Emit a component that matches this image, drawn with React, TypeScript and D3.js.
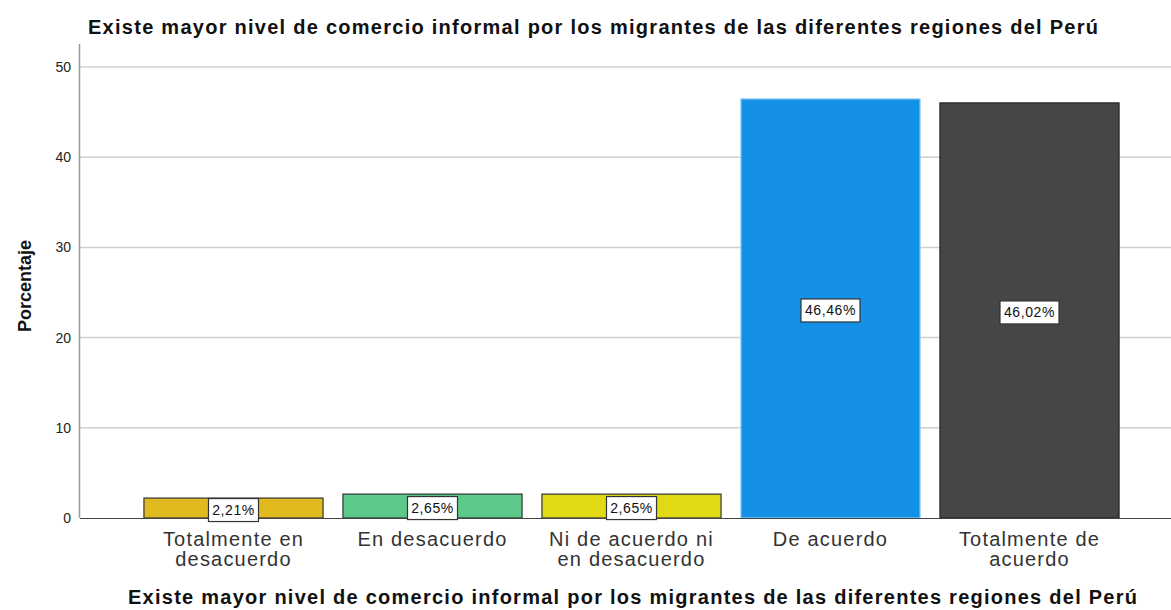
import * as d3 from 'd3';
import { useEffect, useRef } from 'react';

const categories = [
  ['Totalmente en', 'desacuerdo'],
  ['En desacuerdo'],
  ['Ni de acuerdo ni', 'en desacuerdo'],
  ['De acuerdo'],
  ['Totalmente de', 'acuerdo'],
];
const percentages = [2.21, 2.65, 2.65, 46.46, 46.02];
const percentLabels = ['2,21%', '2,65%', '2,65%', '46,46%', '46,02%'];
const barColors = ['#E0BA1E', '#5CC98A', '#E2D915', '#1491E6', '#464648'];
const barStrokes = ['#333333', '#333333', '#333333', '#8DC8F0', '#222222'];
const yTicks = [0, 10, 20, 30, 40, 50];

const title = 'Existe mayor nivel de comercio informal por los migrantes de las diferentes regiones del Perú';

const App = () => {
  const svgRef = useRef(null);

  useEffect(() => {
    const svg = d3.select(svgRef.current);
    svg.selectAll('*').remove();
    const font = '"Liberation Sans", Arial, sans-serif';

    const y = d3.scaleLinear().domain([0, 50]).range([518, 67]);
    const x = d3.scaleBand()
      .domain(percentages.map((_, i) => String(i)))
      .range([134, 1129])
      .paddingInner(0.1)
      .paddingOuter(0.05);

    // gridlines
    svg.append('g')
      .selectAll('line')
      .data(yTicks.filter(t => t > 0))
      .enter()
      .append('line')
      .attr('x1', 80)
      .attr('x2', 1171)
      .attr('y1', d => y(d))
      .attr('y2', d => y(d))
      .style('stroke', '#D0D0D0')
      .style('stroke-width', 1.5);

    // y axis labels
    svg.append('g')
      .selectAll('text')
      .data(yTicks)
      .enter()
      .append('text')
      .attr('x', 71)
      .attr('y', d => y(d) + 5)
      .attr('text-anchor', 'end')
      .style('font-family', font)
      .style('font-size', '14px')
      .style('fill', '#222')
      .text(d => d);

    // y axis line
    svg.append('line')
      .attr('x1', 79.5).attr('x2', 79.5)
      .attr('y1', 44).attr('y2', 518)
      .style('stroke', '#999')
      .style('stroke-width', 1.5);

    // bars
    svg.selectAll('.bar')
      .data(percentages)
      .enter()
      .append('rect')
      .attr('class', 'bar')
      .attr('x', (_, i) => x(String(i)))
      .attr('y', d => y(d))
      .attr('width', x.bandwidth())
      .attr('height', d => y(0) - y(d))
      .style('fill', (_, i) => barColors[i])
      .style('stroke', (_, i) => barStrokes[i])
      .style('stroke-width', 1.2);

    // baseline
    svg.append('line')
      .attr('x1', 80).attr('x2', 1171)
      .attr('y1', 518.5).attr('y2', 518.5)
      .style('stroke', '#444')
      .style('stroke-width', 1.2);

    // value labels
    const labels = svg.append('g')
      .selectAll('g')
      .data(percentages)
      .enter()
      .append('g')
      .attr('transform', (d, i) =>
        `translate(${x(String(i)) + x.bandwidth() / 2}, ${(y(d) + y(0)) / 2 + 2})`);

    labels.append('rect')
      .attr('x', (_, i) => (percentLabels[i].length > 5 ? -29.5 : -25))
      .attr('y', -11.5)
      .attr('width', (_, i) => (percentLabels[i].length > 5 ? 59 : 50))
      .attr('height', 23)
      .style('fill', '#fff')
      .style('stroke', '#333')
      .style('stroke-width', 1.2);

    labels.append('text')
      .attr('text-anchor', 'middle')
      .attr('y', 5)
      .style('font-family', font)
      .style('font-size', '14px')
      .style('letter-spacing', '0.6px')
      .style('fill', '#111')
      .text((_, i) => percentLabels[i]);

    // category labels
    const cats = svg.append('g')
      .selectAll('text')
      .data(categories)
      .enter()
      .append('text')
      .attr('text-anchor', 'middle')
      .attr('x', (_, i) => x(String(i)) + x.bandwidth() / 2)
      .attr('y', 546)
      .style('font-family', font)
      .style('font-size', '20px')
      .style('letter-spacing', '1.2px')
      .style('fill', '#333');

    cats.selectAll('tspan')
      .data(d => d)
      .enter()
      .append('tspan')
      .attr('x', function () {
        return d3.select(this.parentNode).attr('x');
      })
      .attr('dy', (_, j) => (j === 0 ? 0 : 20))
      .text(d => d);

    // top title
    svg.append('text')
      .attr('x', 88)
      .attr('y', 34)
      .attr('textLength', 1010)
      .attr('lengthAdjust', 'spacing')
      .style('font-family', font)
      .style('font-size', '20px')
      .style('font-weight', 'bold')
      .style('fill', '#111')
      .text(title);

    // x axis title
    svg.append('text')
      .attr('x', 128)
      .attr('y', 604)
      .attr('textLength', 1009)
      .attr('lengthAdjust', 'spacing')
      .style('font-family', font)
      .style('font-size', '20px')
      .style('font-weight', 'bold')
      .style('fill', '#111')
      .text(title);

    // y axis title
    svg.append('text')
      .attr('transform', 'translate(31, 286) rotate(-90)')
      .attr('text-anchor', 'middle')
      .style('font-family', '"Liberation Sans Narrow", "Liberation Sans", Arial, sans-serif')
      .style('font-size', '18px')
      .style('font-weight', 'bold')
      .style('fill', '#111')
      .text('Porcentaje');
  }, []);

  return (
    <svg ref={svgRef} width={1171} height={610}
      style={{ position: 'absolute', left: 0, top: 0, background: '#fff' }}></svg>
  );
};

export default App;
